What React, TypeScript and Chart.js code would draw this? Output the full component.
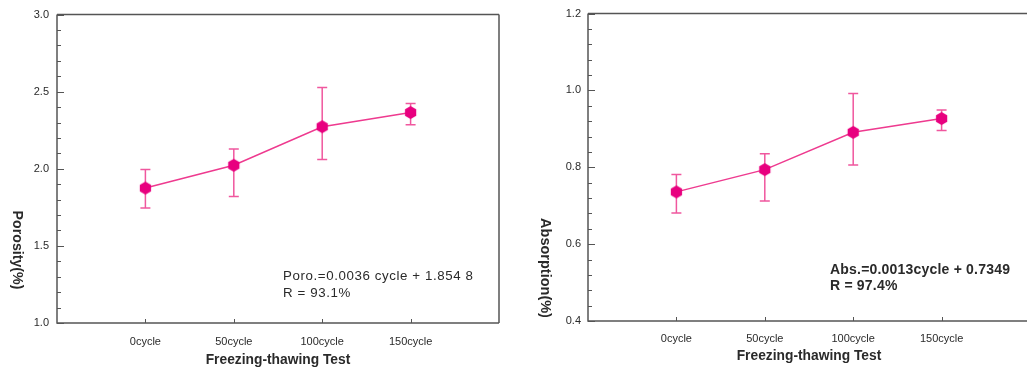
import React, { useEffect, useRef } from "react";
import { Chart, registerables } from "chart.js";

Chart.register(...registerables);

// ---------- data ----------
const cycles = [0, 50, 100, 150];
const cycleSuffix = "cycle";

const porosity = [1.875, 2.023, 2.273, 2.365];
const porosityUpper = [1.995, 2.128, 2.527, 2.424];
const porosityLower = [1.746, 1.82, 2.061, 2.286];

const absorption = [0.736, 0.794, 0.891, 0.927];
const absorptionUpper = [0.781, 0.835, 0.992, 0.949];
const absorptionLower = [0.681, 0.712, 0.806, 0.896];

const porosityNotes = ["Poro.=0.0036 cycle + 1.854 8", "R = 93.1%"];
const absorptionNotes = ["Abs.=0.0013cycle + 0.7349", "R = 97.4%"];

const xTitleText = "Freezing-thawing Test";
const porosityTitle = "Porosity(%)";
const absorptionTitle = "Absorption(%)";

// ---------- styling ----------
const MARKER = "#E8007F";
const LINE = "#EE3A8F";
const ERR = "#F0579E";
const AXIS = "#555555";
const TXT = "#2a2a2a";
const FONT = "'Liberation Sans', Arial, sans-serif";

function hexImage(r: number, color: string): HTMLCanvasElement {
  const c = document.createElement("canvas");
  const s = Math.ceil(r * 2 + 2);
  c.width = s;
  c.height = s;
  const ctx = c.getContext("2d")!;
  ctx.fillStyle = color;
  ctx.beginPath();
  for (let i = 0; i < 6; i++) {
    const a = -Math.PI / 2 + (i * Math.PI) / 3;
    const x = s / 2 + r * Math.cos(a);
    const y = s / 2 + r * Math.sin(a);
    if (i === 0) ctx.moveTo(x, y);
    else ctx.lineTo(x, y);
  }
  ctx.closePath();
  ctx.fill();
  return c;
}

type Spec = {
  values: number[];
  upper: number[];
  lower: number[];
  yMin: number;
  yMax: number;
  yStep: number;
  yMinor: number;
  yTitle: string;
  yTitlePos: [number, number];
  yTitleFont: string;
  xTitleY: number;
  notes: string[];
  notesPos: [number, number];
  notesFont: string;
  notesSpacing: string;
  notesLineH: number;
  yScaleWidth: number;
  xScaleHeight: number;
  padTop: number;
  padRight: number;
  yTickPad: number;
  xTickPad: number;
  drawRight: boolean;
};

function makeDecor(spec: Spec) {
  return {
    id: "decor",
    beforeDatasetsDraw(chart: any) {
      const { ctx } = chart;
      const xs = chart.scales.x;
      const ys = chart.scales.y;
      ctx.save();
      ctx.strokeStyle = ERR;
      ctx.lineWidth = 1.5;
      for (let i = 0; i < cycles.length; i++) {
        const x = xs.getPixelForValue(cycles[i]);
        const yt = ys.getPixelForValue(spec.upper[i]);
        const yb = ys.getPixelForValue(spec.lower[i]);
        ctx.beginPath();
        ctx.moveTo(x, yt);
        ctx.lineTo(x, yb);
        ctx.moveTo(x - 5, yt);
        ctx.lineTo(x + 5, yt);
        ctx.moveTo(x - 5, yb);
        ctx.lineTo(x + 5, yb);
        ctx.stroke();
      }
      ctx.restore();
    },
    afterDraw(chart: any) {
      const { ctx, chartArea: a } = chart;
      const xs = chart.scales.x;
      const ys = chart.scales.y;
      ctx.save();
      // frame
      ctx.strokeStyle = AXIS;
      ctx.lineWidth = 1.5;
      ctx.beginPath();
      ctx.moveTo(a.left, a.top);
      ctx.lineTo(a.left, a.bottom);
      ctx.lineTo(a.right, a.bottom);
      ctx.moveTo(a.left, a.top);
      ctx.lineTo(a.right, a.top);
      if (spec.drawRight) {
        ctx.moveTo(a.right, a.top);
        ctx.lineTo(a.right, a.bottom);
      }
      ctx.stroke();
      // y ticks inside
      ctx.lineWidth = 1;
      ctx.beginPath();
      const n = Math.round((spec.yMax - spec.yMin) / spec.yMinor);
      const per = Math.round(spec.yStep / spec.yMinor);
      for (let i = 0; i <= n; i++) {
        const v = spec.yMin + i * spec.yMinor;
        const y = Math.round(ys.getPixelForValue(v)) + 0.5;
        const len = i % per === 0 ? 7 : 4;
        ctx.moveTo(a.left, y);
        ctx.lineTo(a.left + len, y);
      }
      // x ticks inside
      for (const c of cycles) {
        const x = Math.round(xs.getPixelForValue(c)) + 0.5;
        ctx.moveTo(x, a.bottom);
        ctx.lineTo(x, a.bottom - 4);
      }
      ctx.stroke();
      // titles
      ctx.fillStyle = TXT;
      ctx.textAlign = "center";
      ctx.textBaseline = "middle";
      ctx.font = "bold 13.8px " + FONT;
      ctx.fillText(xTitleText, (a.left + a.right) / 2, spec.xTitleY);
      ctx.save();
      ctx.translate(spec.yTitlePos[0], spec.yTitlePos[1]);
      ctx.rotate(Math.PI / 2);
      ctx.font = spec.yTitleFont;
      ctx.fillText(spec.yTitle, 0, 0);
      ctx.restore();
      // notes
      ctx.textAlign = "left";
      ctx.font = spec.notesFont;
      (ctx as any).letterSpacing = spec.notesSpacing;
      spec.notes.forEach((t, i) => {
        ctx.fillText(t, spec.notesPos[0], spec.notesPos[1] + i * spec.notesLineH);
      });
      ctx.restore();
    },
  };
}

function makeConfig(spec: Spec): any {
  const hex = hexImage(6.5, MARKER);
  return {
    type: "line",
    data: {
      datasets: [
        {
          data: cycles.map((c, i) => ({ x: c, y: spec.values[i] })),
          borderColor: LINE,
          borderWidth: 1.5,
          pointStyle: hex,
          pointRadius: 7,
          pointBackgroundColor: MARKER,
          pointBorderWidth: 0,
          fill: false,
          tension: 0,
        },
      ],
    },
    options: {
      responsive: false,
      animation: false,
      events: [],
      layout: { padding: { top: spec.padTop, right: spec.padRight, left: 0, bottom: 0 } },
      plugins: { legend: { display: false }, tooltip: { enabled: false }, title: { display: false } },
      scales: {
        x: {
          type: "linear",
          min: -50,
          max: 200,
          grid: { display: false, drawTicks: false },
          border: { display: false },
          afterBuildTicks: (s: any) => {
            s.ticks = cycles.map((v) => ({ value: v }));
          },
          afterFit: (s: any) => {
            s.height = spec.xScaleHeight;
          },
          ticks: {
            autoSkip: false,
            maxRotation: 0,
            padding: spec.xTickPad,
            color: TXT,
            font: { family: FONT, size: 11 },
            callback: (v: any) => v + cycleSuffix,
          },
        },
        y: {
          min: spec.yMin,
          max: spec.yMax,
          grid: { display: false, drawTicks: false },
          border: { display: false },
          afterFit: (s: any) => {
            s.width = spec.yScaleWidth;
          },
          ticks: {
            stepSize: spec.yStep,
            padding: spec.yTickPad,
            color: TXT,
            font: { family: FONT, size: 11 },
            callback: (v: any) => Number(v).toFixed(1),
          },
        },
      },
    },
    plugins: [makeDecor(spec)],
  };
}

const leftSpec: Spec = {
  values: porosity,
  upper: porosityUpper,
  lower: porosityLower,
  yMin: 1.0,
  yMax: 3.0,
  yStep: 0.5,
  yMinor: 0.1,
  yTitle: porosityTitle,
  yTitlePos: [17, 250],
  yTitleFont: "bold 14.2px " + FONT,
  xTitleY: 360,
  notes: porosityNotes,
  notesPos: [283, 276],
  notesFont: "13.3px " + FONT,
  notesSpacing: "0.6px",
  notesLineH: 17,
  yScaleWidth: 57,
  xScaleHeight: 45,
  padTop: 14,
  padRight: 16,
  yTickPad: 8,
  xTickPad: 12,
  drawRight: true,
};

const rightSpec: Spec = {
  values: absorption,
  upper: absorptionUpper,
  lower: absorptionLower,
  yMin: 0.4,
  yMax: 1.2,
  yStep: 0.2,
  yMinor: 0.04,
  yTitle: absorptionTitle,
  yTitlePos: [25, 268],
  yTitleFont: "bold 14.5px " + FONT,
  xTitleY: 356,
  notes: absorptionNotes,
  notesPos: [310, 270],
  notesFont: "bold 14px " + FONT,
  notesSpacing: "0.2px",
  notesLineH: 16,
  yScaleWidth: 68,
  xScaleHeight: 47,
  padTop: 12,
  padRight: 10,
  yTickPad: 7,
  xTickPad: 11,
  drawRight: true,
};

function ChartCanvas({ spec, left, width }: { spec: Spec; left: number; width: number }) {
  const ref = useRef<HTMLCanvasElement | null>(null);
  useEffect(() => {
    if (!ref.current) return;
    const chart = new Chart(ref.current, makeConfig(spec));
    return () => chart.destroy();
  }, [spec]);
  return (
    <canvas
      ref={ref}
      width={width}
      height={368}
      style={{ position: "absolute", left, top: 0, width, height: 368 }}
    />
  );
}

export default function App() {
  return (
    <div
      style={{
        position: "fixed",
        left: 0,
        top: 0,
        width: 1027,
        height: 368,
        overflow: "hidden",
        background: "#ffffff",
      }}
    >
      <ChartCanvas spec={leftSpec} left={0} width={515} />
      <ChartCanvas spec={rightSpec} left={520} width={520} />
    </div>
  );
}
